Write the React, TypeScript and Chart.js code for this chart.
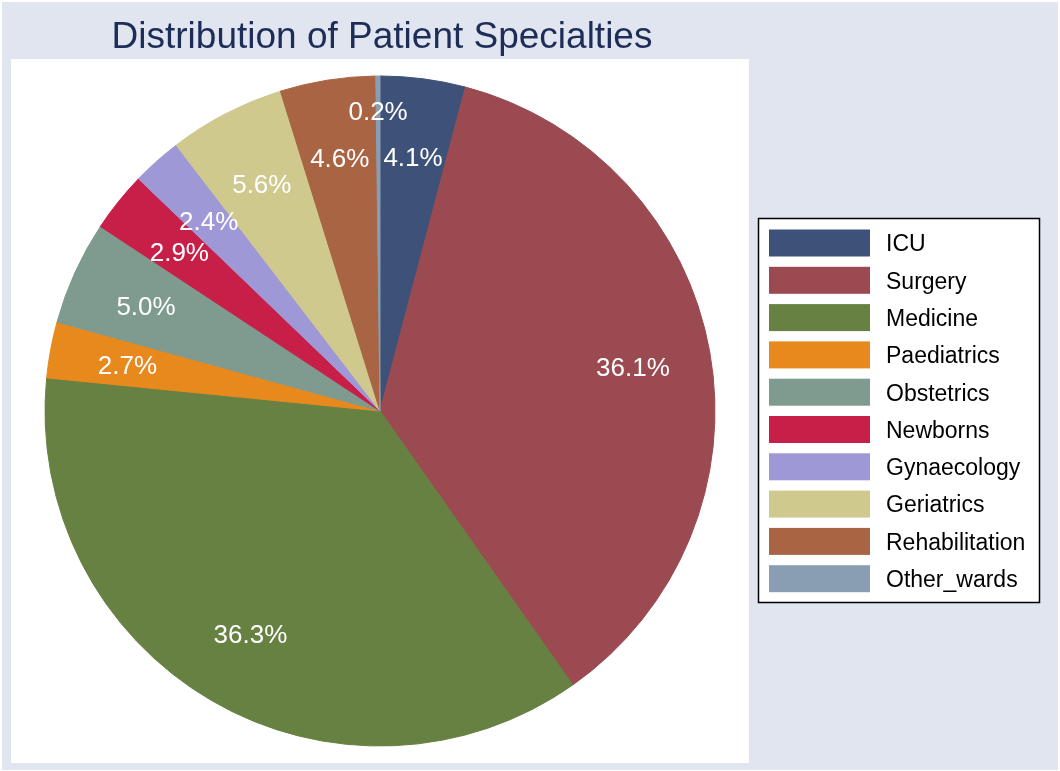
import React, { useEffect, useRef } from "react";
import { Chart, registerables } from "chart.js";

Chart.register(...registerables);

const TITLE = "Distribution of Patient Specialties";
const categories = [
  "ICU",
  "Surgery",
  "Medicine",
  "Paediatrics",
  "Obstetrics",
  "Newborns",
  "Gynaecology",
  "Geriatrics",
  "Rehabilitation",
  "Other_wards",
];
const shares = [4.1, 36.1, 36.3, 2.7, 5.0, 2.9, 2.4, 5.6, 4.6, 0.2];
const colors = [
  "#3e5279",
  "#9a4a50",
  "#678143",
  "#e8891d",
  "#7f9a8f",
  "#c81f49",
  "#9f98d6",
  "#cfc98d",
  "#a96443",
  "#899eb3",
];

const FONT = '"Liberation Sans", Arial, Helvetica, sans-serif';

const framePlugin = {
  id: "frame",
  beforeDraw(chart: any) {
    const ctx = chart.ctx;
    ctx.save();
    ctx.fillStyle = "#ffffff";
    ctx.fillRect(0, 0, chart.width, chart.height);
    ctx.fillStyle = "#e0e5f0";
    ctx.fillRect(2, 2, chart.width - 4, chart.height - 3);
    ctx.fillStyle = "#ffffff";
    ctx.fillRect(11, 59, 738, 704);
    ctx.fillStyle = "#1e2d57";
    ctx.font = `37px ${FONT}`;
    ctx.textAlign = "center";
    ctx.textBaseline = "alphabetic";
    ctx.fillText(TITLE, 382, 48);
    ctx.restore();
  },
};

const labelPlugin = {
  id: "pctLabels",
  afterDatasetsDraw(chart: any) {
    const ctx = chart.ctx;
    const meta = chart.getDatasetMeta(0);
    ctx.save();
    ctx.fillStyle = "#ffffff";
    ctx.font = `26px ${FONT}`;
    ctx.textAlign = "center";
    ctx.textBaseline = "middle";
    meta.data.forEach((arc: any, i: number) => {
      const p = arc.getProps(["x", "y", "startAngle", "endAngle", "outerRadius"], true);
      const mid = (p.startAngle + p.endAngle) / 2;
      const frac = shares[i] < 1 ? 0.9 : 0.767;
      const r = p.outerRadius * frac;
      const x = p.x + Math.cos(mid) * r;
      const y = p.y + Math.sin(mid) * r + 3;
      ctx.fillText(shares[i].toFixed(1) + "%", x, y);
    });
    ctx.restore();
  },
};

const legendPlugin = {
  id: "boxLegend",
  afterDraw(chart: any) {
    const ctx = chart.ctx;
    ctx.save();
    ctx.fillStyle = "#ffffff";
    ctx.fillRect(758, 218, 281, 384);
    ctx.strokeStyle = "#000000";
    ctx.lineWidth = 1.5;
    ctx.strokeRect(758.5, 218.5, 281, 384);
    ctx.font = `23px ${FONT}`;
    ctx.textAlign = "left";
    ctx.textBaseline = "middle";
    categories.forEach((name, i) => {
      const cy = 243 + i * 37.3;
      ctx.fillStyle = colors[i];
      ctx.fillRect(769, cy - 13.5, 101, 27);
      ctx.fillStyle = "#000000";
      ctx.fillText(name, 886, cy + 2);
    });
    ctx.restore();
  },
};

export default function App() {
  const ref = useRef<HTMLCanvasElement | null>(null);
  useEffect(() => {
    if (!ref.current) return;
    const chart = new Chart(ref.current, {
      type: "pie",
      data: {
        labels: categories,
        datasets: [
          {
            data: shares,
            backgroundColor: colors,
            borderColor: colors,
            borderWidth: 1,
          },
        ],
      },
      options: {
        responsive: false,
        animation: false,
        devicePixelRatio: 1,
        radius: 335,
        layout: { padding: { left: 0, right: 300, top: 51, bottom: 0 } },
        plugins: {
          legend: { display: false },
          title: { display: false },
          tooltip: { enabled: false },
        },
      },
      plugins: [framePlugin, labelPlugin, legendPlugin],
    } as any);
    return () => chart.destroy();
  }, []);
  return (
    <div style={{ position: "absolute", left: 0, top: 0, width: 1060, height: 771 }}>
      <canvas ref={ref} width={1060} height={771} style={{ width: 1060, height: 771 }} />
    </div>
  );
}
